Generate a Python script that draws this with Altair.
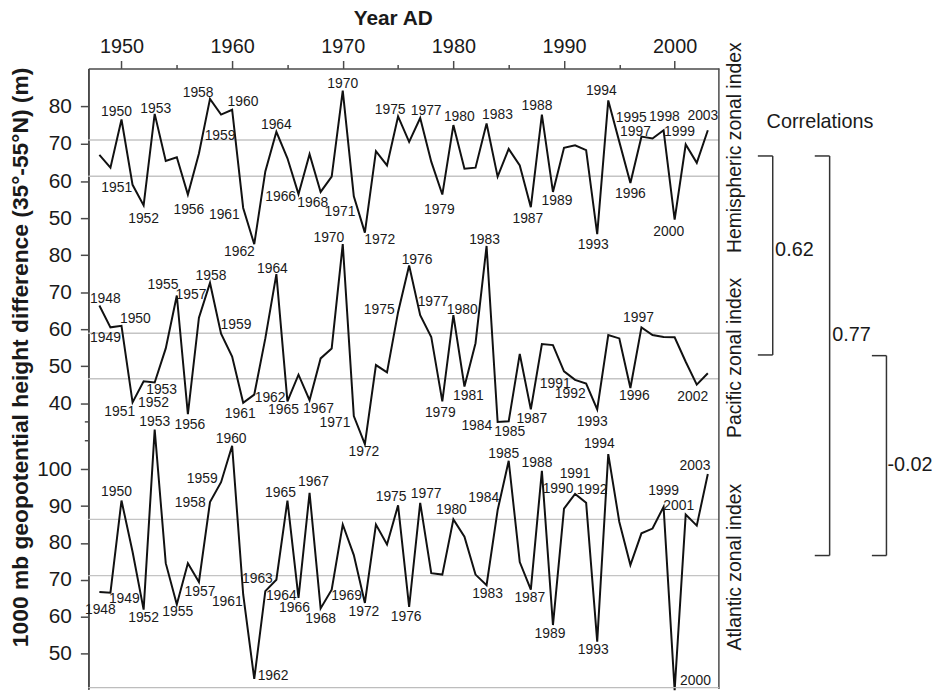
import altair as alt
import pandas as pd

# ---------------- data ----------------
YEARS = list(range(1948, 2004))

HEMI = [67.0, 63.6, 76.5, 59.0, 53.5, 78.0, 65.4, 66.4, 56.4, 67.4,
        82.0, 77.8, 79.1, 52.8, 43.1, 62.6, 73.2, 66.1, 56.5, 67.2,
        57.1, 61.2, 84.2, 55.9, 46.2, 68.0, 64.2, 77.3, 70.5, 76.9,
        65.2, 56.4, 75.0, 63.3, 63.6, 75.4, 61.2, 68.6, 64.2, 53.0,
        77.8, 57.1, 68.9, 69.6, 68.3, 45.8, 81.6, 70.5, 59.5, 71.9,
        71.4, 73.6, 49.7, 69.8, 64.9, 73.6]

PACI = [66.4, 60.5, 60.9, 40.2, 45.9, 45.6, 54.8, 69.1, 37.0, 63.1,
        72.5, 58.8, 52.6, 40.1, 42.3, 57.5, 74.9, 40.5, 47.7, 40.8,
        52.1, 54.8, 83.0, 36.5, 28.9, 50.3, 48.3, 64.6, 77.2, 63.8,
        57.9, 40.5, 63.8, 44.5, 56.2, 82.5, 34.9, 35.1, 53.3, 38.3,
        56.0, 55.7, 48.6, 46.3, 45.3, 38.3, 58.4, 57.5, 44.1, 60.5,
        58.4, 57.9, 57.8, 51.2, 45.0, 48.1]

ATLA = [66.7, 66.5, 91.5, 77.6, 61.9, 110.8, 74.5, 63.3, 74.5, 69.4,
        91.1, 96.5, 106.4, 66.0, 43.1, 66.9, 70.0, 91.5, 65.1, 93.6,
        62.2, 67.3, 85.0, 76.7, 63.7, 85.0, 79.6, 90.2, 62.6, 90.9,
        71.8, 71.4, 86.4, 81.7, 71.4, 68.5, 88.9, 102.3, 74.8, 67.3,
        99.6, 57.7, 89.3, 93.3, 90.9, 53.2, 104.1, 85.7, 74.0, 82.6,
        83.9, 89.8, 40.0, 87.7, 84.7, 98.7]

HEMI_GRID = [71.0, 61.3]
PACI_GRID = [58.9, 46.6]
ATLA_GRID = [86.4, 71.1]

HEMI_TICKS = [50, 60, 70, 80]
PACI_TICKS = [30, 35, 40, 50, 60, 70, 80]
ATLA_TICKS = [50, 60, 70, 80, 90, 100]
X_TICKS = list(range(1950, 2001, 5))

PANEL_NAMES = ["Hemispheric zonal index", "Pacific zonal index", "Atlantic zonal index"]
CORR_VALUES = ["0.62", "0.77", "-0.02"]
X_TITLE = "Year AD"
Y_TITLE = "1000 mb geopotential height difference (35°-55°N) (m)"
CORR_TITLE = "Correlations"

# ---------------- label placement (style): year -> (dx, dy) px ----------------
HEMI_LAB = {1950: (-5, -7), 1951: (-16, 3), 1952: (0, 14), 1953: (1, -5), 1956: (1, 16),
            1958: (-12, -6), 1959: (-1, 22), 1960: (11, -8), 1961: (-19, 7), 1962: (-15, 8),
            1964: (0, -7), 1966: (-18, 3), 1968: (-8, 11), 1970: (0, -7), 1971: (-14, 16),
            1972: (15, 7), 1975: (-8, -6), 1977: (6, -7), 1979: (-3, 16), 1980: (6, -8),
            1983: (11, -9), 1987: (-3, 12), 1988: (-5, -9), 1989: (4, 9), 1993: (-4, 11),
            1994: (-7, -9), 1995: (12, -24), 1996: (0, 11), 1997: (-6, -5), 1998: (12, -22),
            1999: (16, 2), 2000: (-6, 13), 2003: (-5, -14)}
PACI_LAB = {1948: (6, -7), 1949: (-5, 11), 1950: (14, -7), 1951: (-13, 10), 1952: (10, 22),
            1953: (7, 8), 1955: (-14, -11), 1956: (2, 11), 1957: (-8, -23), 1958: (1, -7),
            1959: (15, -9), 1961: (-3, 11), 1962: (16, 3), 1964: (-4, -5), 1965: (-4, 9),
            1967: (9, 9), 1970: (-14, -6), 1971: (-19, 7), 1972: (-1, 8), 1975: (-19, -2),
            1976: (8, -6), 1977: (13, -13), 1979: (-2, 12), 1980: (9, -5), 1981: (4, 10),
            1983: (-2, -6), 1984: (-21, 4), 1985: (1, 11), 1987: (1, 10), 1991: (-20, 4),
            1992: (-16, 11), 1993: (-5, 13), 1996: (4, 8), 1997: (-3, -9), 2002: (-4, 12)}
ATLA_LAB = {1948: (1, 18), 1949: (14, 6), 1950: (-5, -9), 1952: (0, 9), 1953: (0, -8),
            1955: (1, 8), 1957: (1, 10), 1958: (-20, 1), 1959: (-19, -3), 1960: (-1, -7),
            1961: (-16, 8), 1962: (19, -3), 1963: (-8, -12), 1964: (5, 16), 1965: (-7, -8),
            1966: (-4, 10), 1967: (4, -11), 1968: (0, 11), 1969: (15, 6), 1972: (-1, 9),
            1975: (-7, -8), 1976: (-3, 10), 1977: (6, -9), 1980: (-2, -9), 1983: (1, 9),
            1984: (-14, -12), 1985: (-5, -7), 1987: (-1, 8), 1988: (-5, -8), 1989: (-3, 9),
            1990: (-6, -20), 1991: (0, -20), 1992: (6, -13), 1993: (-4, 9), 1994: (-9, -10),
            1999: (0, -16), 2000: (21, -9), 2001: (-7, -9), 2003: (-13, -8)}

# ---------------- layout ----------------
FONT = "Liberation Sans"
INK = "#1a1a1a"
AX = "#4a4a4a"
W = 636
TOP_Y, BOT_Y = 66, 692          # page y of plot top / bottom
H = BOT_Y - TOP_Y
PAD = {"left": 81, "top": 58, "right": 222, "bottom": 0}
# per panel: reference value, page y of that value, px per unit
CAL = [(80, 104.3, 3.767), (80, 254.4, 3.73), (100, 470.3, 3.714)]

xscale = alt.Scale(domain=[1947, 2004], nice=False, zero=False)

x_axis = alt.Axis(orient="top", values=X_TICKS, format="d",
                  labelExpr="datum.value % 10 === 0 ? datum.label : ''",
                  tickSize={"condition": {"test": "datum.value % 10 === 0", "value": 8}, "value": 4},
                  labelFontSize=20, labelFont=FONT, labelColor=INK, labelPadding=4,
                  domainColor=AX, tickColor=AX, domainWidth=1.5, tickWidth=1.5, grid=False,
                  title=X_TITLE, titleFont=FONT, titleFontSize=21, titleFontWeight="bold",
                  titleColor=INK, titleX=307, titleY=-50, titleAlign="center",
                  titleBaseline="middle")


def y_axis(ticks, title):
    kw = dict(orient="left", values=ticks, grid=False,
              labelFontSize=21, labelFont=FONT, labelColor=INK, labelPadding=9,
              labelExpr="datum.value < 40 ? '' : datum.label",
              tickSize={"condition": {"test": "datum.value < 40", "value": 4}, "value": 8},
              domainColor=AX, tickColor=AX, domainWidth=1.5, tickWidth=1.5,
              title=title)
    if title:
        kw.update(titleFont=FONT, titleFontSize=23, titleFontWeight="bold", titleColor=INK,
                  titleAngle=270, titleX=-68, titleY=291, titleAlign="center",
                  titleBaseline="middle")
    return alt.Axis(**kw)


def panel(values, ticks, grid, labels, cal, title, with_x_axis):
    v_ref, y_ref, k = cal
    hi = v_ref + (y_ref - TOP_Y) / k
    lo = v_ref - (BOT_Y - y_ref) / k
    ysc = alt.Scale(domain=[lo, hi], nice=False, zero=False)

    df = pd.DataFrame({"year": YEARS, "v": values})
    gdf = pd.DataFrame({"v": grid})
    vmap = dict(zip(YEARS, values))

    xenc = alt.X("year:Q", scale=xscale, axis=x_axis) if with_x_axis else alt.X("year:Q", scale=xscale)

    layers = [
        alt.Chart(gdf).mark_rule(color="#c4c4c4", strokeWidth=1.3).encode(
            y=alt.Y("v:Q", scale=ysc)),
        alt.Chart(df).mark_line(color="#111111", strokeWidth=2).encode(
            x=xenc, y=alt.Y("v:Q", scale=ysc, axis=y_axis(ticks, title))),
    ]
    # one text layer per label offset
    groups = {}
    for yr in sorted(labels):
        groups.setdefault(labels[yr], []).append(yr)
    for (dx, dy), yrs in groups.items():
        ldf = pd.DataFrame({"year": yrs, "v": [vmap[y] for y in yrs],
                            "t": [str(y) for y in yrs]})
        layers.append(alt.Chart(ldf).mark_text(
            font=FONT, fontSize=14, color=INK, align="center", baseline="middle",
            dx=dx, dy=dy).encode(
            x=alt.X("year:Q", scale=xscale),
            y=alt.Y("v:Q", scale=ysc),
            text="t:N"))
    return alt.layer(*layers)


p1 = panel(HEMI, HEMI_TICKS, HEMI_GRID, HEMI_LAB, CAL[0], Y_TITLE, True)
p2 = panel(PACI, PACI_TICKS, PACI_GRID, PACI_LAB, CAL[1], "", False)
p3 = panel(ATLA, ATLA_TICKS, ATLA_GRID, ATLA_LAB, CAL[2], "", False)

one = pd.DataFrame({"k": [0]})

deco = []
# right frame line and faint bottom edge
deco.append(alt.Chart(one).mark_rule(color=AX, strokeWidth=1.5).encode(
    x=alt.value(W), y=alt.value(0), y2=alt.value(H)))
deco.append(alt.Chart(one).mark_rule(color="#bdbdbd", strokeWidth=1.2).encode(
    x=alt.value(0), x2=alt.value(W), y=alt.value(H - 1.5)))

# panel names (rotated), plot coords of centre
NAME_POS = [(652.5, 80), (652.5, 292), (652.5, 503)]
for name, (px, py) in zip(PANEL_NAMES, NAME_POS):
    deco.append(alt.Chart(one).mark_text(font=FONT, fontSize=19.5, color=INK, angle=270,
                                         align="center", baseline="middle").encode(
        x=alt.value(px), y=alt.value(py), text=alt.value(name)))

# correlation brackets: (vertical x, y top, y bottom, tick start x)
BRACKETS = [(690.3, 88.3, 289.0, 675.3), (747.7, 88.3, 491.3, 732.7), (805.0, 289.7, 491.3, 790.3)]
CORR_POS = [(692.7, 183.3), (750.3, 269.0), (806.0, 400.0)]
for (bx, y0, y1, tx) in BRACKETS:
    deco.append(alt.Chart(one).mark_rule(color="#333333", strokeWidth=1.5).encode(
        x=alt.value(bx), y=alt.value(y0), y2=alt.value(y1)))
    for yy in (y0, y1):
        deco.append(alt.Chart(one).mark_rule(color="#333333", strokeWidth=1.5).encode(
            x=alt.value(tx), x2=alt.value(bx), y=alt.value(yy)))
for val, (px, py) in zip(CORR_VALUES, CORR_POS):
    deco.append(alt.Chart(one).mark_text(font=FONT, fontSize=20, color=INK,
                                         align="left", baseline="middle").encode(
        x=alt.value(px), y=alt.value(py), text=alt.value(val)))
deco.append(alt.Chart(one).mark_text(font=FONT, fontSize=20, color=INK,
                                     align="center", baseline="middle").encode(
    x=alt.value(738), y=alt.value(54), text=alt.value(CORR_TITLE)))

chart = alt.layer(p1, p2, p3, *deco).resolve_scale(y="independent").properties(
    width=W, height=H, padding=PAD,
    autosize=alt.AutoSizeParams(type="none"),
).configure_view(strokeWidth=0)

chart.save("out.html", embed_options={"renderer": "svg", "actions": False})
